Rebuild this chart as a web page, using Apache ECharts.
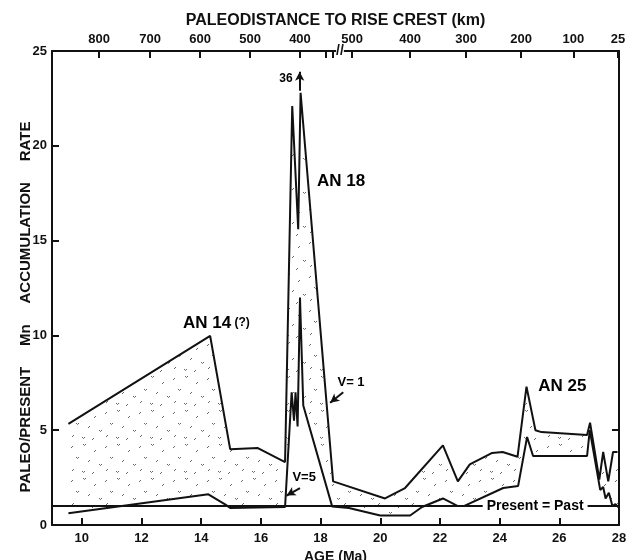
<!DOCTYPE html>
<html><head><meta charset="utf-8">
<script src="https://cdn.jsdelivr.net/npm/echarts@6/dist/echarts.min.js"></script>
<style>html,body{margin:0;padding:0;background:#fff}#c{width:629px;height:560px}</style>
</head><body><div id="c"></div>
<script>
// ---- data ----
const upperAge  = [9.55, 14.3, 14.97, 15.9, 16.81, 17.05, 17.25, 17.33, 18.42, 20.16, 20.83, 22.1, 22.6, 23.0, 23.75, 24.1, 24.6, 24.9, 25.2, 25.4, 26.93, 27.03, 27.34, 27.47, 27.64, 27.8, 27.95];
const upperRate = [5.33, 9.97, 4.0, 4.06, 3.32, 22.1, 15.6, 22.8, 2.3, 1.4, 1.95, 4.2, 2.3, 3.2, 3.8, 3.85, 3.6, 7.3, 5.0, 4.9, 4.75, 5.4, 2.4, 3.85, 2.3, 3.85, 3.85];
const lowerAge  = [9.55, 14.24, 14.8, 14.97, 16.81, 17.03, 17.11, 17.16, 17.23, 17.31, 17.42, 18.39, 18.95, 20.0, 21.0, 21.4, 22.1, 22.6, 22.8, 24.12, 24.62, 24.92, 25.12, 26.93, 27.02, 27.37, 27.47, 27.55, 27.66, 27.78, 27.88, 28.0];
const lowerRate = [0.62, 1.62, 1.09, 0.9, 0.95, 7.0, 5.5, 7.0, 5.2, 12.0, 6.3, 0.97, 0.9, 0.5, 0.5, 0.95, 1.4, 1.0, 1.0, 1.95, 2.06, 4.64, 3.64, 3.64, 5.0, 1.85, 2.0, 1.4, 1.7, 1.0, 1.1, 0.9];
const presentPast = 1;
const ageTicks  = [10, 12, 14, 16, 18, 20, 22, 24, 26, 28];
const rateTicks = [0, 5, 10, 15, 20, 25];
const paleoTickAge   = [10.58, 12.29, 13.96, 15.64, 17.31, 19.06, 21.0, 22.88, 24.72, 26.47, 27.97];
const paleoTickLabel = ['800', '700', '600', '500', '400', '500', '400', '300', '200', '100', '25'];
const paleoMinorAge  = [18.19, 18.42];
const peakTrueValue = '36';

const FONT = "'Liberation Sans', Arial, sans-serif";
const INK = '#111';

// stipple pattern
const pat = document.createElement('canvas');
pat.width = 34; pat.height = 34;
(function(){
  const g = pat.getContext('2d');
  g.strokeStyle = '#666'; g.lineWidth = 1;
  const marks = [[3,4],[15,2],[26,8],[8,15],[20,18],[31,22],[4,27],[14,29],[24,30]];
  marks.forEach(function(m, i){
    g.beginPath();
    if (i % 2) { g.moveTo(m[0], m[1]); g.lineTo(m[0]+1.5, m[1]+1.5); g.lineTo(m[0]+3, m[1]); }
    else { g.moveTo(m[0], m[1]+2); g.lineTo(m[0]+2, m[1]); }
    g.stroke();
  });
})();

const zip = (a, b) => a.map((v, i) => [v, b[i]]);

const chart = echarts.init(document.getElementById('c'), null, {renderer: 'canvas'});
const axisLineStyle = {color: INK, width: 2};
const labelStyle = {color: INK, fontFamily: FONT, fontWeight: 'bold', fontSize: 13};

chart.setOption({
  animation: false,
  backgroundColor: '#fff',
  grid: {left: 52, right: 10, top: 51, bottom: 35, containLabel: false, outerBoundsMode: 'none'},
  xAxis: [{
    type: 'value', min: 9, max: 28, position: 'bottom',
    name: 'AGE (Ma)', nameLocation: 'middle', nameGap: 22,
    nameTextStyle: {color: INK, fontFamily: FONT, fontWeight: 'bold', fontSize: 14},
    axisLine: {show: true, onZero: false, lineStyle: axisLineStyle},
    axisTick: {show: true, inside: true, length: 7, customValues: ageTicks, lineStyle: {color: INK, width: 2}},
    axisLabel: {customValues: ageTicks, margin: 7, ...labelStyle},
    splitLine: {show: false}
  }, {
    type: 'value', min: 9, max: 28, position: 'top',
    name: 'PALEODISTANCE TO RISE CREST (km)', nameLocation: 'middle', nameGap: 22,
    nameTextStyle: {color: INK, fontFamily: FONT, fontWeight: 'bold', fontSize: 16},
    axisLine: {show: true, onZero: false, lineStyle: axisLineStyle},
    axisTick: {show: true, inside: true, length: 7, customValues: paleoTickAge.concat(paleoMinorAge), lineStyle: {color: INK, width: 2}},
    axisLabel: {customValues: paleoTickAge, margin: 5, ...labelStyle,
      formatter: function(v){ const i = paleoTickAge.indexOf(v); return i >= 0 ? paleoTickLabel[i] : ''; }},
    splitLine: {show: false}
  }],
  yAxis: [{
    type: 'value', min: 0, max: 25, interval: 5, position: 'left',
    axisLine: {show: true, onZero: false, lineStyle: axisLineStyle},
    axisTick: {show: true, inside: true, length: 7, lineStyle: {color: INK, width: 2}},
    axisLabel: {margin: 5, ...labelStyle},
    splitLine: {show: false}
  }, {
    type: 'value', min: 0, max: 25, position: 'right',
    axisLine: {show: true, onZero: false, lineStyle: axisLineStyle},
    axisTick: {show: true, inside: true, length: 7, customValues: [5], lineStyle: {color: INK, width: 2}},
    axisLabel: {show: false},
    splitLine: {show: false}
  }],
  series: [{
    type: 'custom', name: 'band', xAxisIndex: 0, yAxisIndex: 0, z: 1, silent: true,
    data: [[20, 10]],
    renderItem: function(params, api){
      const pts = [];
      for (let i = 0; i < upperAge.length; i++) pts.push(api.coord([upperAge[i], upperRate[i]]));
      for (let i = lowerAge.length - 1; i >= 0; i--) pts.push(api.coord([lowerAge[i], lowerRate[i]]));
      return {type: 'polygon', shape: {points: pts}, style: {fill: {image: pat, repeat: 'repeat'}, stroke: null}};
    }
  }, {
    type: 'line', name: 'V=1', data: zip(upperAge, upperRate), symbol: 'none', z: 3,
    lineStyle: {color: INK, width: 2}, clip: false,
    markLine: {silent: true, symbol: ['none', 'arrow'], symbolSize: [7, 9], label: {show: false},
      lineStyle: {color: INK, width: 2, type: 'solid'},
      data: [
        [{coord: [17.30, 22.9]}, {coord: [17.30, 23.9]}],
        [{coord: [18.76, 7.0]}, {coord: [18.32, 6.45]}],
        [{coord: [17.31, 1.95]}, {coord: [16.86, 1.55]}]
      ]}
  }, {
    type: 'line', name: 'V=5', data: zip(lowerAge, lowerRate), symbol: 'none', z: 3,
    lineStyle: {color: INK, width: 2}, clip: false,
    markLine: {silent: true, symbol: ['none', 'none'], label: {show: false},
      lineStyle: {color: INK, width: 2, type: 'solid'},
      data: [{yAxis: presentPast}]}
  }]
});

// text annotations positioned in data coordinates
const notes = [
  {at: [13.39, 10.65], text: '{a|AN 14} {b|(?)}', align: 'left'},
  {at: [18.69, 18.14], text: '{a|AN 18}', align: 'center'},
  {at: [26.10, 7.33], text: '{a|AN 25}', align: 'center'},
  {at: [16.84, 23.52], text: '{c|' + peakTrueValue + '}', align: 'center'},
  {at: [19.02, 7.54], text: '{d|V= 1}', align: 'center'},
  {at: [17.45, 2.53], text: '{d|V=5}', align: 'center'},
  {at: [25.19, presentPast], text: '{e|Present = Past}', align: 'center', bg: true}
];
const rich = {
  a: {fontFamily: FONT, fontWeight: 'bold', fontSize: 17, color: INK},
  b: {fontFamily: FONT, fontWeight: 'bold', fontSize: 12, color: INK},
  c: {fontFamily: FONT, fontWeight: 'bold', fontSize: 12, color: INK},
  d: {fontFamily: FONT, fontWeight: 'bold', fontSize: 13, color: INK},
  e: {fontFamily: FONT, fontWeight: 'bold', fontSize: 14, color: INK}
};
const graphics = notes.map(function(n){
  const p = chart.convertToPixel({xAxisIndex: 0, yAxisIndex: 0}, n.at);
  return {type: 'text', x: p[0], y: p[1], z: 10,
    style: {text: n.text, rich: rich, align: n.align, verticalAlign: 'middle',
      backgroundColor: n.bg ? '#fff' : null, padding: n.bg ? [0, 4] : 0}};
});
// y-axis title (placed like the reference, below the grid centre)
const yt = chart.convertToPixel({xAxisIndex: 0, yAxisIndex: 0}, [9, 11.5]);
graphics.push({type: 'text', x: 26, y: yt[1], rotation: Math.PI / 2, z: 10,
  style: {text: 'PALEO/PRESENT     Mn     ACCUMULATION     RATE', fontFamily: FONT, fontWeight: 'bold',
    fontSize: 15, fill: INK, align: 'center', verticalAlign: 'middle'}});
// axis break mark on the paleodistance scale
const bp = chart.convertToPixel({xAxisIndex: 1, yAxisIndex: 0}, [18.65, 25]);
graphics.push({type: 'text', x: bp[0], y: bp[1], z: 10,
  style: {text: '//', fontFamily: FONT, fontWeight: 'bold', fontSize: 14, fill: INK,
    align: 'center', verticalAlign: 'middle', backgroundColor: '#fff', padding: [0, 0]}});
chart.setOption({graphic: graphics});
</script>
</body></html>
